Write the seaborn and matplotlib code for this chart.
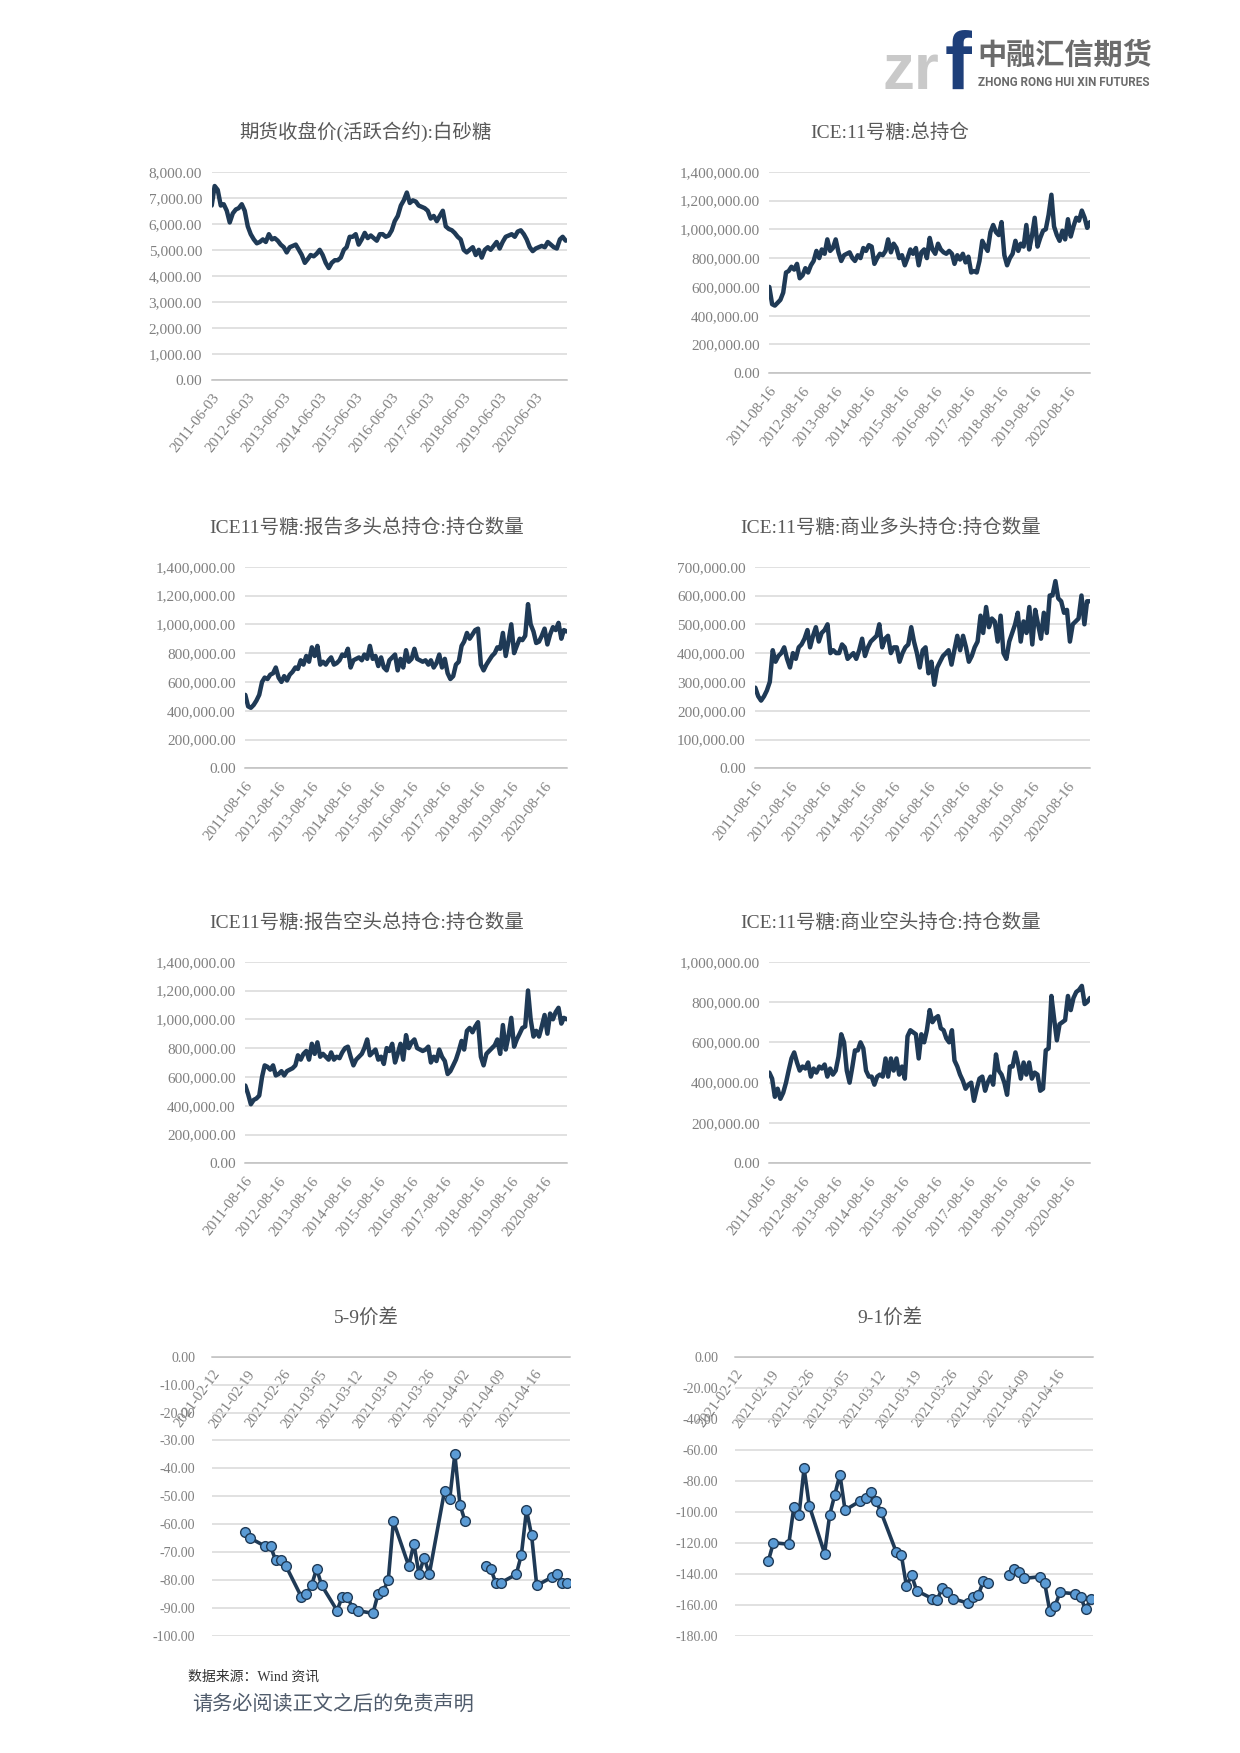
"""
白糖期货与ICE 11号糖持仓、价差图表（仿研报页面）
"""

import pandas as pd
import numpy as np
import matplotlib
matplotlib.use('Agg')
import matplotlib.pyplot as plt
import seaborn as sns

sns.set_style('white')
plt.rcParams['font.family'] = ['Liberation Serif', 'Noto Sans CJK SC', 'DejaVu Sans']
plt.rcParams['axes.unicode_minus'] = False

W, H = 1240, 1753
LINE = '#1f3a56'
GRID = '#d9d9d9'
AXIS = '#bfbfbf'
TICK = '#808080'
TITLE = '#595959'

# ---------------- 数据 ----------------
# 期货收盘价(活跃合约):白砂糖, 月度, 2011-06 起
sugar_close = [
    6700, 7450, 7300, 6700, 6750, 6500, 6050,
    6400, 6550, 6600, 6750, 6500, 5900, 5600, 5400, 5250, 5300, 5400, 5300,
    5600, 5400, 5450, 5350, 5200, 5100, 4900, 5100, 5150, 5200, 5000, 4800,
    4500, 4650, 4800, 4750, 4850, 5000, 4800, 4500, 4300, 4500, 4600, 4600,
    4700, 5000, 5100, 5500, 5500, 5600, 5200, 5400, 5650, 5450, 5550, 5450,
    5350, 5600, 5600, 5500, 5550, 5750, 6100, 6300, 6700, 6900, 7200, 6800,
    6900, 6850, 6700, 6650, 6600, 6500, 6200, 6300, 6100, 6300, 6500, 5900,
    5800, 5750, 5650, 5500, 5400, 5000, 4900, 5000, 5100, 4800, 5000, 4700,
    5000, 5100, 5000, 5150, 5300, 5050, 5300, 5500, 5550, 5600, 5500, 5700,
    5750, 5600, 5400, 5100, 4950, 5050, 5100, 5150, 5100, 5300, 5200, 5100,
    5050, 5400, 5500, 5350,
]

# ICE:11号糖 各项持仓 (千手), 月度, 2011-08 起
ice_total_k = [
    600, 480, 470, 490, 510,
    560, 700, 710, 740, 720, 760, 660, 680, 730, 700, 750, 780,
    850, 800, 860, 830, 930, 850, 870, 930, 840, 780, 820, 830,
    840, 800, 780, 820, 800, 870, 850, 890, 880, 760, 800, 830,
    820, 850, 930, 840, 900, 870, 800, 820, 750, 800, 860, 830,
    870, 750, 840, 860, 800, 940, 860, 830, 900, 860, 840, 830,
    850, 830, 760, 820, 790, 830, 770, 810, 700, 710, 700, 780,
    920, 880, 850, 980, 1030, 980, 960, 1050, 820, 750, 800, 830,
    920, 850, 900, 880, 1030, 860, 950, 1080, 880, 940, 990, 1000,
    1100, 1240, 1020, 960, 920, 990, 930, 1070, 950, 1020, 1080, 1060,
    1130, 1080, 1010, 1050,
]

ice_long_k = [
    510, 430, 420, 440, 470,
    510, 600, 630, 620, 650, 660, 700, 630, 600, 640, 610, 650,
    670, 700, 690, 750, 720, 780, 740, 840, 780, 850, 720, 740,
    720, 750, 770, 720, 730, 750, 790, 780, 830, 700, 750, 760,
    770, 750, 790, 760, 850, 760, 780, 710, 770, 700, 680, 750,
    770, 790, 680, 760, 700, 820, 740, 760, 830, 760, 750, 740,
    750, 720, 750, 700, 730, 790, 700, 760, 660, 620, 640, 720,
    740, 850, 880, 940, 900, 930, 960, 970, 720, 680, 720, 750,
    780, 800, 840, 830, 940, 780, 880, 1000, 800, 850, 900, 890,
    920, 1140, 1000, 950, 870, 880, 920, 970, 860, 930, 980, 960,
    1010, 900, 960, 950,
]

comm_long_k = [
    280, 250, 235, 250, 270,
    300, 410, 370, 390, 400, 420, 380, 350, 400, 380, 420, 430,
    450, 480, 420, 460, 490, 440, 470, 480, 500, 400, 410, 400,
    400, 430, 420, 380, 390, 400, 380, 410, 450, 390, 420, 440,
    450, 460, 500, 420, 450, 460, 400, 420, 420, 370, 400, 420,
    430, 490, 440, 400, 350, 410, 420, 330, 370, 290, 350, 370,
    390, 400, 410, 360, 410, 460, 410, 460, 420, 370, 390, 420,
    440, 530, 470, 560, 490, 520, 510, 440, 530, 400, 380, 440,
    470, 500, 540, 440, 510, 470, 560, 430, 550, 500, 450, 540,
    470, 600, 600, 650, 590, 580, 540, 550, 440, 500, 510, 520,
    600, 500, 580, 580,
]

ice_short_k = [
    540, 480, 410, 440, 450,
    470, 600, 680, 670, 650, 680, 610, 620, 640, 610, 640, 650,
    660, 680, 750, 720, 760, 780, 720, 830, 760, 840, 740, 760,
    740, 720, 770, 720, 740, 730, 770, 800, 810, 740, 680, 720,
    740, 760, 800, 860, 750, 770, 790, 720, 740, 690, 800, 780,
    830, 700, 760, 830, 720, 890, 800, 840, 860, 800, 790, 780,
    790, 810, 700, 740, 710, 790, 740, 710, 620, 640, 680, 720,
    780, 850, 790, 920, 940, 910, 950, 980, 740, 680, 760, 780,
    800, 820, 860, 760, 960, 790, 880, 1010, 810, 860, 900, 940,
    950, 1200, 1000, 880, 920, 880, 950, 1030, 900, 1040, 1000, 1050,
    1080, 970, 1010, 1000,
]

comm_short_k = [
    450, 420, 330, 370, 320,
    350, 400, 460, 520, 550, 500, 460, 480, 470, 500, 430, 470,
    450, 480, 470, 490, 430, 470, 440, 460, 530, 640, 600, 460,
    400, 480, 560, 560, 600, 570, 460, 430, 430, 390, 430, 440,
    430, 520, 430, 520, 460, 520, 440, 480, 420, 630, 660, 650,
    640, 520, 640, 600, 660, 760, 700, 720, 730, 670, 660, 620,
    600, 660, 510, 480, 440, 410, 370, 390, 400, 310, 370, 420,
    430, 360, 400, 430, 390, 540, 460, 440, 400, 340, 480, 480,
    550, 490, 420, 500, 440, 500, 420, 450, 440, 360, 370, 560,
    570, 830, 720, 610, 690, 700, 710, 830, 760, 820, 850, 860,
    880, 790, 800, 820,
]

# 价差 (交易日)
spread_dates = [
    '2021-02-18', '2021-02-19', '2021-02-22', '2021-02-23', '2021-02-24', '2021-02-25', '2021-02-26',
    '2021-03-01', '2021-03-02', '2021-03-03', '2021-03-04', '2021-03-05',
    '2021-03-08', '2021-03-09', '2021-03-10', '2021-03-11', '2021-03-12',
    '2021-03-15', '2021-03-16', '2021-03-17', '2021-03-18', '2021-03-19',
    '2021-03-22', '2021-03-23', '2021-03-24', '2021-03-25', '2021-03-26',
    '2021-03-29', '2021-03-30', '2021-03-31', '2021-04-01', '2021-04-02',
    '2021-04-06', '2021-04-07', '2021-04-08', '2021-04-09',
    '2021-04-12', '2021-04-13', '2021-04-14', '2021-04-15', '2021-04-16',
    '2021-04-19', '2021-04-20', '2021-04-21', '2021-04-22',
]
holiday = '2021-04-05'  # 清明假期, 折线断开

spread_5_9 = [
    -63, -65, -68, -68, -73, -73, -75,
    -86, -85, -82, -76, -82,
    -91, -86, -86, -90, -91,
    -92, -85, -84, -80, -59,
    -75, -67, -78, -72, -78,
    -48, -51, -35, -53, -59,
    -75, -76, -81, -81,
    -78, -71, -55, -64, -82,
    -79, -78, -81, -81,
]

spread_9_1 = [
    -132, -120, -121, -97, -102, -72, -96,
    -127, -102, -89, -76, -99,
    -93, -91, -87, -93, -100,
    -126, -128, -148, -141, -151,
    -156, -157, -149, -152, -156,
    -159, -155, -154, -145, -146,
    -141, -137, -139, -143,
    -142, -146, -164, -161, -152,
    -153, -155, -163, -156,
]


def box(x0, y0, x1, y1):
    # 像素坐标 -> figure 比例
    return [x0 / W, 1 - y1 / H, (x1 - x0) / W, (y1 - y0) / H]


def style_axes(ax, yticks, ypad):
    for s in ['left', 'right', 'top']:
        ax.spines[s].set_visible(False)
    ax.spines['bottom'].set_color(AXIS)
    ax.spines['bottom'].set_linewidth(1.1)
    ax.set_yticks(yticks)
    ax.set_yticklabels([f'{v:,.2f}' for v in yticks])
    ax.yaxis.grid(True, color=GRID, lw=1.1)
    ax.xaxis.grid(False)
    ax.set_axisbelow(True)
    ax.tick_params(axis='y', length=0, pad=ypad, labelcolor=TICK, labelsize=11)
    ax.tick_params(axis='x', length=4, width=1, color=AXIS, labelcolor=TICK,
                   labelsize=11, pad=4)
    ax.set_xlabel('')
    ax.set_ylabel('')


fig = plt.figure(figsize=(12.4, 17.53), dpi=100)
fig.patch.set_facecolor('white')


def monthly_chart(rect, start, values, scale, ymax, ystep, title, tx, ty, xend):
    ax = fig.add_axes(box(*rect))
    dates = pd.date_range(start, periods=len(values), freq=pd.DateOffset(months=1))
    df = pd.DataFrame({'date': dates, 'v': np.array(values) * scale})
    sns.lineplot(data=df, x='date', y='v', ax=ax, color=LINE, lw=3.2)
    ax.set_ylim(0, ymax)
    ax.set_xlim(pd.Timestamp(start), pd.Timestamp(xend))
    style_axes(ax, np.arange(0, ymax + 1, ystep), 7)
    years = pd.date_range(start, periods=10, freq=pd.DateOffset(years=1))
    ax.set_xticks(years)
    ax.set_xticklabels([d.strftime('%Y-%m-%d') for d in years], rotation=52,
                       ha='right', va='top', rotation_mode='anchor')
    fig.text(tx / W, 1 - ty / H, title, ha='center', va='center',
             fontsize=14, color=TITLE)
    return ax


def spread_chart(rect, values, ymin, ystep, title, tx, ty):
    ax = fig.add_axes(box(*rect))
    df = pd.DataFrame({'date': pd.to_datetime(spread_dates) + pd.Timedelta(hours=12),
                       'v': values})
    df['seg'] = (df['date'] > pd.Timestamp(holiday)).astype(int)
    sns.lineplot(data=df, x='date', y='v', units='seg', estimator=None, ax=ax,
                 color=LINE, lw=2.6, marker='o', markersize=7,
                 markerfacecolor='#5b9bd5', markeredgecolor=LINE, markeredgewidth=1)
    ax.set_ylim(ymin, 0)
    ax.set_xlim(pd.Timestamp('2021-02-12'), pd.Timestamp('2021-04-23'))
    style_axes(ax, np.arange(ymin, 1, ystep), 12)
    ax.spines['bottom'].set_position(('data', 0))
    weeks = pd.date_range('2021-02-12', periods=10, freq='7D')
    ax.set_xticks(weeks)
    ax.set_xticklabels([d.strftime('%Y-%m-%d') for d in weeks], rotation=54,
                       ha='right', va='top', rotation_mode='anchor')
    ax.tick_params(axis='x', labelsize=10.5)
    ax.tick_params(axis='y', labelsize=10)
    fig.text(tx / W, 1 - ty / H, title, ha='center', va='center',
             fontsize=14, color=TITLE)
    return ax


monthly_chart((211.7, 171.7, 566.7, 380), '2011-06-03', sugar_close, 1, 8000, 1000,
              '期货收盘价(活跃合约):白砂糖', 366, 132, '2021-04-13')
monthly_chart((769.3, 171.7, 1090, 373.3), '2011-08-16', ice_total_k, 1000, 1400000, 200000,
              'ICE:11号糖:总持仓', 890, 133, '2021-04-16')
monthly_chart((245.3, 566.7, 566.7, 768.3), '2011-08-16', ice_long_k, 1000, 1400000, 200000,
              'ICE11号糖:报告多头总持仓:持仓数量', 367, 528, '2021-04-16')
monthly_chart((755.3, 566.7, 1090, 768.3), '2011-08-16', comm_long_k, 1000, 700000, 100000,
              'ICE:11号糖:商业多头持仓:持仓数量', 891, 528, '2021-04-16')
monthly_chart((245.3, 961.7, 566.7, 1163.3), '2011-08-16', ice_short_k, 1000, 1400000, 200000,
              'ICE11号糖:报告空头总持仓:持仓数量', 367, 923, '2021-04-16')
monthly_chart((769.3, 961.7, 1090, 1163.3), '2011-08-16', comm_short_k, 1000, 1000000, 200000,
              'ICE:11号糖:商业空头持仓:持仓数量', 891, 923, '2021-04-16')

spread_chart((211.7, 1356.7, 570, 1635.7), spread_5_9, -100, 10, '5-9价差', 366, 1317)
spread_chart((735, 1356.7, 1093.3, 1635.7), spread_9_1, -180, 20, '9-1价差', 890, 1317)

# 公司标识
fig.text(883 / W, 1 - 89 / H, 'zr', fontsize=46, fontweight='bold', color='#c9c9c9',
         family='Liberation Sans', ha='left', va='baseline')
fig.text(945 / W, 1 - 89 / H, 'f', fontsize=58, fontweight='bold', color='#1e3f7a',
         family='Liberation Sans', ha='left', va='baseline')
fig.text(977 / W, 1 - 55 / H, '中融汇信期货', fontsize=21, fontweight='bold', color='#6b6b6b',
         family='Noto Sans CJK SC', ha='left', va='center')
fig.text(978 / W, 1 - 82 / H, 'ZHONG RONG HUI XIN FUTURES', fontsize=8.5, fontweight='bold',
         color='#6b6b6b', family='Roboto', ha='left', va='center')

# 页脚
fig.text(188 / W, 1 - 1677 / H, '数据来源：Wind 资讯', fontsize=10, color='#333333',
         ha='left', va='center')
fig.text(192 / W, 1 - 1705 / H, '请务必阅读正文之后的免责声明', fontsize=14.5, color='#4f5b6b',
         ha='left', va='center')

fig.savefig('out.png', dpi=100, facecolor='white')
